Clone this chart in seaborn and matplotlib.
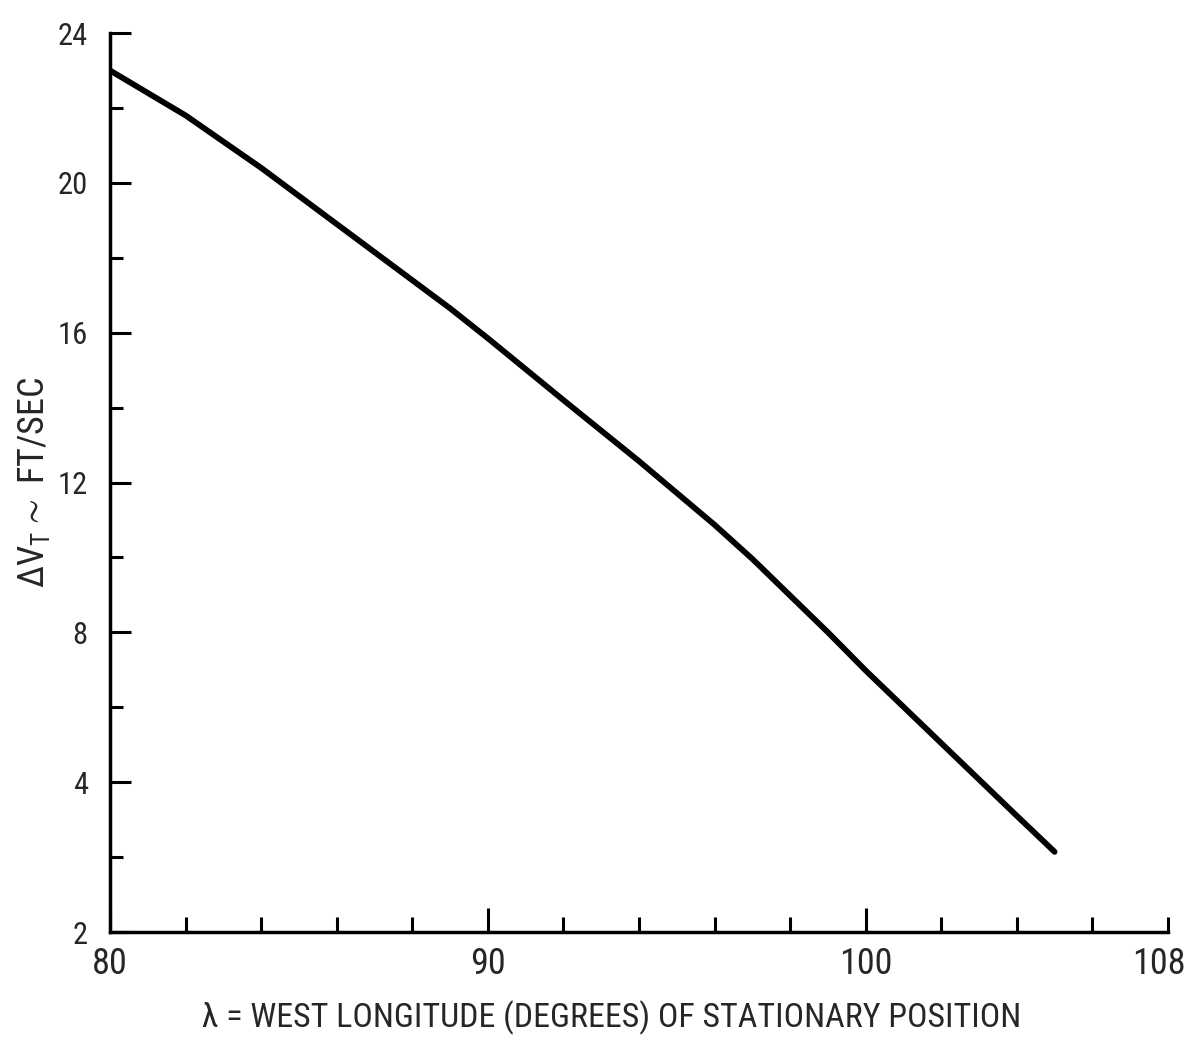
import matplotlib
matplotlib.use("Agg")
import matplotlib.pyplot as plt
import matplotlib.font_manager as fm
import matplotlib.transforms as mtransforms
import seaborn as sns
import pandas as pd

# ---- data ----
longitude = [80, 82, 84, 86, 88, 89, 90, 92, 94, 95, 96, 97, 98, 99, 100, 102, 104, 105]
delta_v = [23.0, 21.8, 20.4, 18.9, 17.4, 16.65, 15.85, 14.2, 12.57, 11.72, 10.87, 9.96,
           8.98, 8.0, 6.98, 5.04, 3.1, 2.14]

x_major = [80, 90, 100, 108]
x_major_labels = ["80", "90", "100", "108"]
x_minor = [82, 84, 86, 88, 92, 94, 96, 98, 102, 104, 106]
y_major = [0, 4, 8, 12, 16, 20, 24]
y_major_labels = ["2", "4", "8", "12", "16", "20", "24"]
y_minor = [2, 6, 10, 14, 18, 22]

xlabel = "λ = WEST LONGITUDE (DEGREES) OF STATIONARY POSITION"
ylabel = r"$\mathregular{\Delta V_T \sim}$ FT/SEC"

sns.set_theme(style="ticks")

# pick a condensed font if available
names = {f.name for f in fm.fontManager.ttflist}
stretch = "normal"
family = "DejaVu Sans"
for cand in ["Roboto Condensed", "Liberation Sans Narrow", "DejaVu Sans Condensed"]:
    if cand in names:
        family = cand
        break
else:
    if any(f.name == "DejaVu Sans" and str(f.stretch) in ("condensed", "semi-condensed")
           for f in fm.fontManager.ttflist):
        stretch = "condensed"
plt.rcParams["font.family"] = [family, "DejaVu Sans"]
plt.rcParams["font.stretch"] = stretch

df = pd.DataFrame({"lon": longitude, "dv": delta_v})

fig = plt.figure(figsize=(11.89, 10.39), dpi=100)
ax = fig.add_axes([110 / 1189, 1 - 932 / 1039, (1168 - 110) / 1189, (932 - 33) / 1039])

sns.lineplot(data=df, x="lon", y="dv", ax=ax, color="black", linewidth=4.2,
             solid_capstyle="round", solid_joinstyle="round")

ax.set_xlim(80, 108)
ax.set_ylim(0, 24)

for s in ["top", "right"]:
    ax.spines[s].set_visible(False)
for s in ["left", "bottom"]:
    ax.spines[s].set_linewidth(2.5)
    ax.spines[s].set_color("black")

ax.set_xticks(x_major)
ax.set_xticklabels(x_major_labels)
ax.set_xticks(x_minor, minor=True)
ax.set_yticks(y_major)
ax.set_yticklabels(y_major_labels)
ax.set_yticks(y_minor, minor=True)

ax.tick_params(axis="both", which="both", direction="in", color="black", width=2.2)
ax.tick_params(axis="y", which="major", length=15, pad=16, labelsize=22)
ax.tick_params(axis="y", which="minor", length=9.5)
ax.tick_params(axis="x", which="major", length=17, pad=10, labelsize=26)
ax.tick_params(axis="x", which="minor", length=11)
ax.xaxis.get_major_ticks()[3].tick1line.set_markersize(11)

# last x label sits slightly left of its tick in the reference
lbl = ax.get_xticklabels()[3]
lbl.set_transform(lbl.get_transform() + mtransforms.ScaledTranslation(-9 / 100, 0, fig.dpi_scale_trans))

ax.set_xlabel(xlabel, fontsize=24.5)
ax.xaxis.set_label_coords((612 - 110) / 1058, -0.076)
ax.set_ylabel(ylabel, fontsize=26, labelpad=4)
ax.grid(False)

fig.savefig("out.png", dpi=100, facecolor="white")
